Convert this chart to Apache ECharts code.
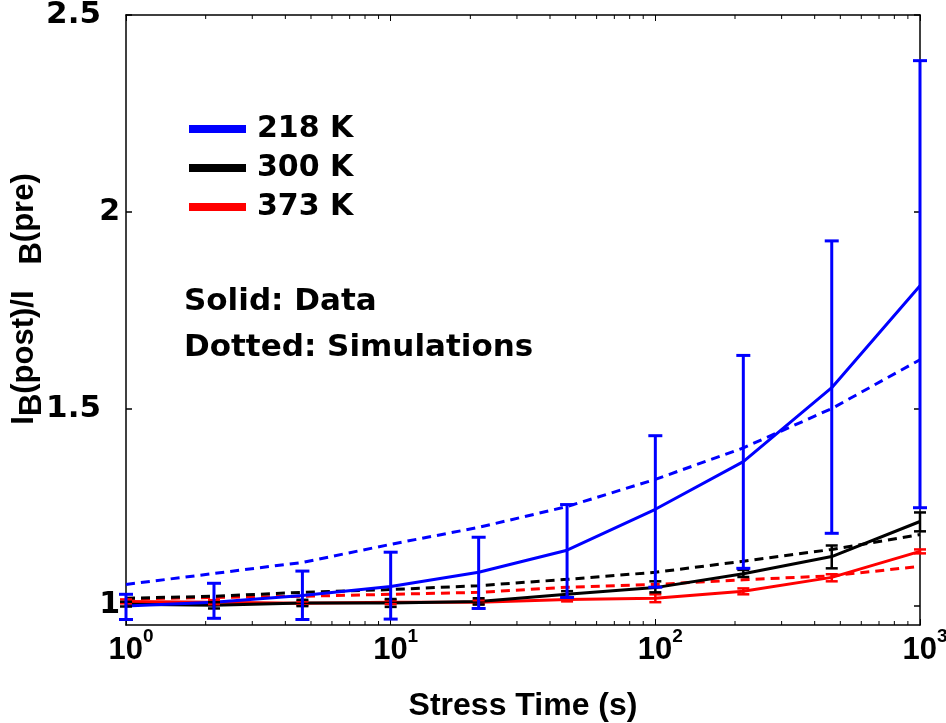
<!DOCTYPE html>
<html>
<head>
<meta charset="utf-8">
<script src="https://cdn.jsdelivr.net/npm/echarts@6/dist/echarts.min.js"></script>
<style>
  html, body { margin: 0; padding: 0; background: #fff; }
  #chart { width: 946px; height: 723px; }
</style>
</head>
<body>
<div id="chart"></div>
<script>
// Stress times (s), one point every third of a decade
const stressTime = [1, 2.15, 4.64, 10, 21.5, 46.4, 100, 215, 464, 1000];

// 218 K: measured ratio, error range, simulation
const data218 = [0.998, 1.008, 1.025, 1.048, 1.084, 1.14, 1.244, 1.365, 1.553, 1.812];
const low218  = [0.964, 0.967, 0.964, 0.965, 0.992, 1.02, 1.046, 1.094, 1.183, 1.248];
const high218 = [1.028, 1.056, 1.087, 1.135, 1.173, 1.256, 1.431, 1.635, 1.926, 2.384];
const sim218  = [1.053, 1.081, 1.109, 1.155, 1.198, 1.251, 1.32, 1.40, 1.50, 1.624];

// 300 K
const data300 = [1.003, 1.0, 1.006, 1.006, 1.01, 1.028, 1.045, 1.08, 1.124, 1.213];
const low300  = [0.997, 0.992, 0.998, 0.996, 1.002, 1.02, 1.033, 1.072, 1.094, 1.188];
const high300 = [1.009, 1.008, 1.014, 1.016, 1.018, 1.036, 1.061, 1.09, 1.152, 1.236];
const sim300  = [1.018, 1.023, 1.033, 1.04, 1.05, 1.066, 1.084, 1.112, 1.142, 1.18];

// 373 K
const data373 = [1.01, 1.008, 1.005, 1.008, 1.008, 1.015, 1.018, 1.036, 1.071, 1.137];
const low373  = [1.005, 1.003, 1.0, 1.003, 1.003, 1.01, 1.008, 1.028, 1.061, 1.132];
const high373 = [1.015, 1.013, 1.01, 1.013, 1.013, 1.02, 1.028, 1.043, 1.079, 1.142];
const sim373  = [1.016, 1.02, 1.023, 1.028, 1.033, 1.046, 1.053, 1.065, 1.075, 1.099];

const seriesNames = ['218 K', '300 K', '373 K'];
const seriesColors = ['#0000ff', '#000000', '#ff0000'];

// Axis ticks
const yTickValues = [1, 1.5, 2, 2.5];
const xMinorTicks = [2, 3, 4, 5, 6, 7, 8, 9, 20, 30, 40, 50, 60, 70, 80, 90, 200, 300, 400, 500, 600, 700, 800, 900];

const FONT = '"Liberation Sans", Arial, sans-serif';
const WIDE = '"DejaVu Sans", Verdana, sans-serif';
const Y_MIN = 0.95, Y_MAX = 2.5;

const pairs = (ys) => stressTime.map((x, i) => [x, ys[i]]);

function dataLine(name, color, ys) {
  return {
    type: 'line', name: name, data: pairs(ys),
    symbol: 'none', color: color,
    lineStyle: { width: 3, color: color }, z: 4
  };
}

function simLine(name, color, ys) {
  return {
    type: 'line', name: name + ' (sim)', data: pairs(ys),
    symbol: 'none', color: color,
    lineStyle: { width: 3, color: color, type: [9, 6] }, z: 3
  };
}

function errorBars(name, color, lo, hi, width, cap) {
  return {
    type: 'custom', name: name + ' (err)', clip: false, z: 5,
    data: stressTime.map((x, i) => [x, lo[i], hi[i]]),
    encode: { x: 0, y: [1, 2] },
    renderItem: function (params, api) {
      const x = api.value(0);
      const a = api.coord([x, api.value(1)]);
      const b = api.coord([x, api.value(2)]);
      const h = cap / 2;
      const st = { stroke: color, lineWidth: width };
      return {
        type: 'group',
        children: [
          { type: 'line', shape: { x1: a[0], y1: a[1], x2: b[0], y2: b[1] }, style: st },
          { type: 'line', shape: { x1: a[0] - h, y1: a[1], x2: a[0] + h, y2: a[1] }, style: st },
          { type: 'line', shape: { x1: b[0] - h, y1: b[1], x2: b[0] + h, y2: b[1] }, style: st }
        ]
      };
    }
  };
}

// Short inward ticks at 2..9 of every decade, on both the bottom and top edges
const minorTickSeries = {
  type: 'custom', name: 'minor ticks', clip: false, silent: true, z: 6,
  data: xMinorTicks.map(v => [v, Y_MIN]),
  encode: { x: 0, y: 1 },
  renderItem: function (params, api) {
    const x = api.value(0);
    const bot = api.coord([x, Y_MIN]);
    const top = api.coord([x, Y_MAX]);
    const st = { stroke: '#000', lineWidth: 1 };
    return {
      type: 'group',
      children: [
        { type: 'line', shape: { x1: bot[0], y1: bot[1], x2: bot[0], y2: bot[1] - 4 }, style: st },
        { type: 'line', shape: { x1: top[0], y1: top[1], x2: top[0], y2: top[1] + 4 }, style: st }
      ]
    };
  }
};

const axisLine = { show: true, lineStyle: { color: '#000', width: 1.5 } };

const chart = echarts.init(document.getElementById('chart'), null, { renderer: 'canvas' });

chart.setOption({
  animation: false,
  backgroundColor: '#fff',
  grid: { left: 126, right: 26, top: 15, bottom: 98, containLabel: false, outerBoundsMode: 'none' },
  legend: {
    data: seriesNames,
    orient: 'vertical',
    left: 189, top: 113,
    padding: 0,
    icon: 'rect',
    itemWidth: 57, itemHeight: 8,
    itemGap: 7,
    selectedMode: false,
    textStyle: { fontFamily: WIDE, fontWeight: 'bold', fontSize: 30, color: '#000', lineHeight: 32, padding: [0, 0, 0, 6] }
  },
  xAxis: [
    {
      type: 'log', logBase: 10, min: 1, max: 1000, position: 'bottom',
      axisLine: axisLine,
      axisTick: { inside: true, length: 6, lineStyle: { color: '#000', width: 1 } },
      splitLine: { show: false },
      axisLabel: {
        margin: 2,
        formatter: function (v) {
          return '{sp|}{b|10}{s|' + Math.round(Math.log10(v)) + '}';
        },
        rich: {
          sp: { width: 10 },
          b: { fontFamily: FONT, fontWeight: 'bold', fontSize: 31, color: '#000', verticalAlign: 'bottom' },
          s: { fontFamily: FONT, fontWeight: 'bold', fontSize: 19, color: '#000', verticalAlign: 'bottom', padding: [0, 0, 20, 0] }
        }
      },
      name: 'Stress Time (s)',
      nameLocation: 'middle',
      nameGap: 65,
      nameTextStyle: { fontFamily: FONT, fontWeight: 'bold', fontSize: 32, color: '#000' }
    },
    {
      type: 'log', logBase: 10, min: 1, max: 1000, position: 'top',
      axisLine: axisLine,
      axisTick: { inside: true, length: 6, lineStyle: { color: '#000', width: 1 } },
      axisLabel: { show: false },
      splitLine: { show: false }
    }
  ],
  yAxis: [
    {
      type: 'value', min: Y_MIN, max: Y_MAX, position: 'left',
      axisLine: axisLine,
      axisTick: { inside: true, length: 6, customValues: yTickValues, lineStyle: { color: '#000', width: 1.5 } },
      splitLine: { show: false },
      axisLabel: {
        customValues: yTickValues,
        margin: 6,
        formatter: v => (Number.isInteger(v) ? '{n|' + v + '}' : '{f|' + v + '}'),
        rich: {
          n: { fontFamily: WIDE, fontWeight: 'bold', fontSize: 30, color: '#000' },
          f: { fontFamily: WIDE, fontWeight: 'bold', fontSize: 31, color: '#000', padding: [0, 19, 0, 0] }
        }
      },
      name: 'I{sub|B}(post)/I   {sub|B}(pre)',
      nameLocation: 'middle',
      nameRotate: 90,
      nameGap: 78,
      nameMoveOverlap: false,
      nameTextStyle: {
        fontFamily: FONT, fontWeight: 'bold', fontSize: 31, color: '#000', padding: [0, 0, 0, 42],
        rich: {
          sub: { fontFamily: FONT, fontWeight: 'bold', fontSize: 31, color: '#000', verticalAlign: 'bottom', padding: [16, 0, 0, 0] }
        }
      }
    },
    {
      type: 'value', min: Y_MIN, max: Y_MAX, position: 'right',
      axisLine: axisLine,
      axisTick: { inside: true, length: 6, customValues: yTickValues, lineStyle: { color: '#000', width: 1.5 } },
      axisLabel: { show: false },
      splitLine: { show: false }
    }
  ],
  graphic: [
    { type: 'text', left: 184, top: 286, style: { text: 'Solid: Data', fontFamily: WIDE, fontWeight: 'bold', fontSize: 31, fill: '#000' } },
    { type: 'text', left: 184, top: 332, style: { text: 'Dotted: Simulations', fontFamily: WIDE, fontWeight: 'bold', fontSize: 31, fill: '#000' } }
  ],
  series: [
    simLine(seriesNames[2], seriesColors[2], sim373),
    simLine(seriesNames[1], seriesColors[1], sim300),
    simLine(seriesNames[0], seriesColors[0], sim218),
    dataLine(seriesNames[2], seriesColors[2], data373),
    dataLine(seriesNames[1], seriesColors[1], data300),
    dataLine(seriesNames[0], seriesColors[0], data218),
    errorBars(seriesNames[2], seriesColors[2], low373, high373, 2.5, 12),
    errorBars(seriesNames[1], seriesColors[1], low300, high300, 2.5, 12),
    errorBars(seriesNames[0], seriesColors[0], low218, high218, 3, 14),
    minorTickSeries
  ]
});
</script>
</body>
</html>
